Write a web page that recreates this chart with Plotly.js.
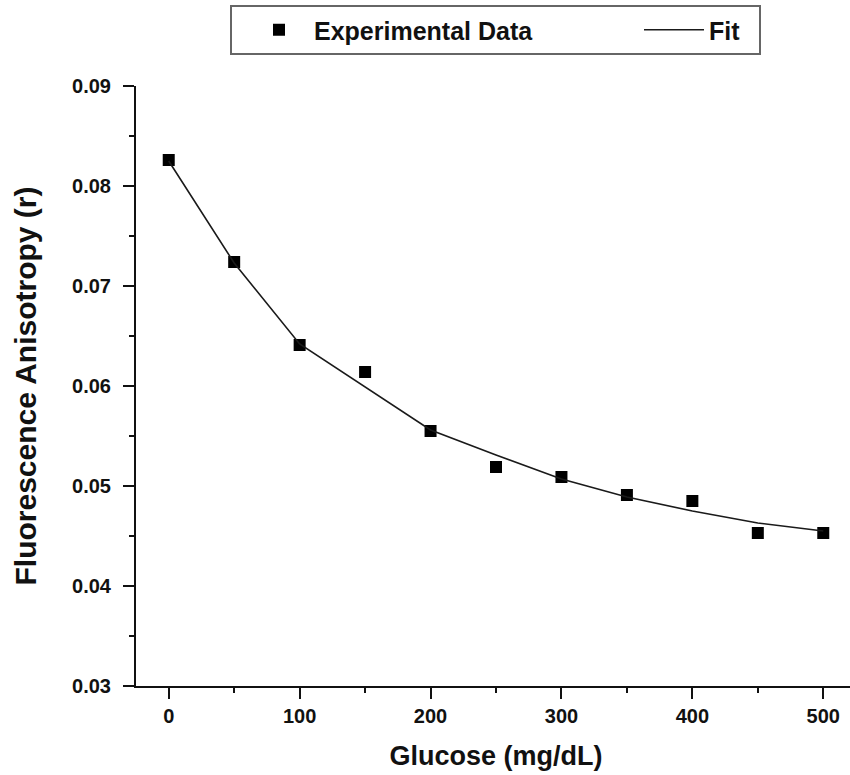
<!DOCTYPE html>
<html>
<head>
<meta charset="utf-8">
<script src="https://cdn.plot.ly/plotly-3.0.1.min.js"></script>
<style>
html,body{margin:0;padding:0;overflow:hidden;background:#fff;}
#chart{width:862px;height:775px;}
</style>
</head>
<body>
<div id="chart"></div>
<script>
// Data
var glucose = [0, 50, 100, 150, 200, 250, 300, 350, 400, 450, 500];
var anisotropy = [0.0826, 0.0724, 0.0641, 0.0614, 0.0555, 0.0519, 0.0509, 0.0491, 0.0485, 0.0453, 0.0453];
var fitX = [0, 50, 100, 150, 200, 250, 300, 350, 400, 450, 500];
var fitY = [0.0825, 0.0723, 0.0642, 0.0599, 0.0556, 0.0531, 0.0507, 0.0489, 0.0475, 0.0463, 0.0455];

var FONT = 'Liberation Sans, Arial, sans-serif';
var INK = '#111111';

var traces = [
  {
    x: glucose, y: anisotropy,
    name: 'Experimental Data',
    type: 'scatter', mode: 'markers',
    marker: {symbol: 'square', size: 12, color: '#000000', line: {width: 0}},
    legendwidth: 308
  },
  {
    x: fitX, y: fitY,
    name: 'Fit\u00a0\u00a0',
    type: 'scatter', mode: 'lines',
    line: {color: '#1a1a1a', width: 1.6}
  }
];

var axisCommon = {
  showgrid: false, zeroline: false,
  showline: true, linecolor: INK, linewidth: 2,
  tickcolor: INK, tickwidth: 2, ticklen: 11
};

var layout = {
  width: 862, height: 775,
  margin: {l: 136, r: 6, t: 85, b: 89},
  paper_bgcolor: '#ffffff', plot_bgcolor: '#ffffff',
  font: {family: FONT, color: INK},
  showlegend: true,
  legend: {
    orientation: 'h',
    x: (230 - 136) / 720, xanchor: 'left',
    y: 1 + (85 - 5) / 601, yanchor: 'top',
    bordercolor: '#666666', borderwidth: 2,
    bgcolor: '#ffffff',
    font: {family: FONT, size: 25, weight: 700, color: INK},
    itemwidth: 60,
    indentation: 12,
    traceorder: 'normal'
  },
  xaxis: Object.assign({}, axisCommon, {
    range: [-25, 525],
    tick0: 0, dtick: 100,
    ticks: 'outside',
    minor: {dtick: 50, ticks: 'outside', ticklen: 5, tickwidth: 2, tickcolor: INK},
    tickfont: {family: FONT, size: 20, weight: 700, color: INK},
    ticklabelstandoff: 0,
    title: {text: 'Glucose (mg/dL)', font: {family: FONT, size: 27, weight: 700, color: INK}, standoff: 20}
  }),
  yaxis: Object.assign({}, axisCommon, {
    range: [0.03, 0.09],
    tick0: 0.03, dtick: 0.01,
    tickformat: '.2f',
    ticks: 'outside',
    minor: {dtick: 0.005, ticks: 'outside', ticklen: 5, tickwidth: 2, tickcolor: INK},
    tickfont: {family: FONT, size: 20, weight: 700, color: INK},
    ticklabelstandoff: 8,
    title: {text: 'Fluorescence Anisotropy (r)', font: {family: FONT, size: 30, weight: 700, color: INK}, standoff: 27}
  }),
  xaxis2: Object.assign({}, axisCommon, {
    overlaying: 'x', side: 'top', anchor: 'y',
    range: [-25, 525], tick0: 0, dtick: 100,
    ticks: 'inside', showticklabels: false,
    minor: {dtick: 50, ticks: 'inside', ticklen: 5, tickwidth: 2, tickcolor: INK}
  }),
  yaxis2: Object.assign({}, axisCommon, {
    overlaying: 'y', side: 'right', anchor: 'x',
    range: [0.03, 0.09], tick0: 0.03, dtick: 0.01,
    ticks: 'inside', showticklabels: false,
    minor: {dtick: 0.005, ticks: 'inside', ticklen: 5, tickwidth: 2, tickcolor: INK}
  })
};

Plotly.newPlot('chart', traces, layout, {staticPlot: true, displayModeBar: false});
</script>
</body>
</html>
